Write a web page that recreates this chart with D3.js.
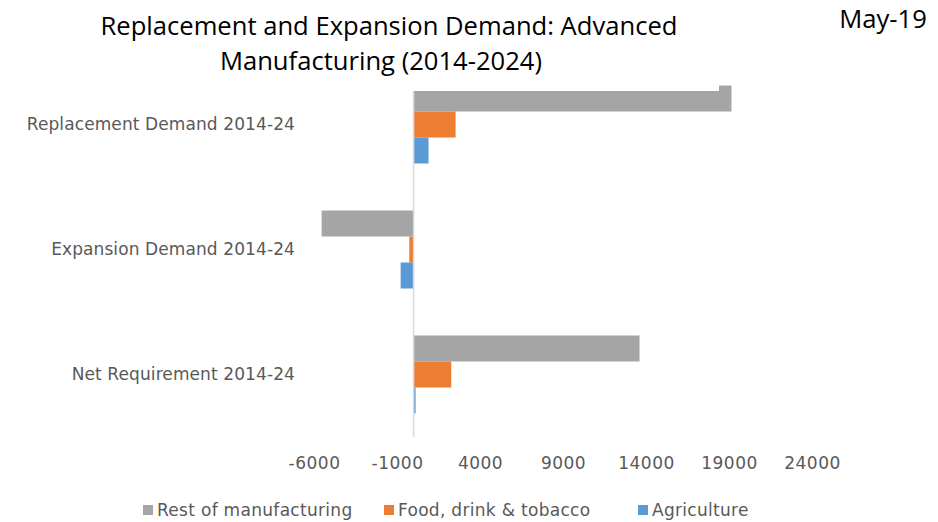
<!DOCTYPE html>
<head>
<meta charset="utf-8">
<title>Replacement and Expansion Demand</title>
<script src="https://d3js.org/d3.v7.min.js"></script>
</head>
<style>
body { margin: 0; background: #fff; }
text { font-family: "DejaVu Sans", sans-serif; }
</style>
<body>
<svg class="chart"></svg>
</body>
<script>
// categories, top to bottom
var categories = ["Replacement Demand 2014-24", "Expansion Demand 2014-24", "Net Requirement 2014-24"];
var seriesNames = ["Rest of manufacturing", "Food, drink & tobacco", "Agriculture"];
var restValues = [19150, -5540, 13610];
var foodValues = [2530, -260, 2270];
var agriValues = [900, -780, 120];
var tickValues = [-6000, -1000, 4000, 9000, 14000, 19000, 24000];
var colors = ["#a5a5a5", "#ed7d31", "#5b9bd5"];

var allSeries = [restValues, foodValues, agriValues];

var width = 938, height = 522;
var svg = d3.select(".chart").attr("width", width).attr("height", height);

var x = d3.scaleLinear().domain([-6000, 24000]).range([314, 812]);
var y = d3.scaleBand().domain(categories).range([62, 437])
	.paddingInner(0.376).paddingOuter(0.188);
var ySub = d3.scaleBand().domain(d3.range(seriesNames.length)).range([0, y.bandwidth()]);

// bars
var groups = svg.selectAll(".group")
	.data(categories)
	.enter().append("g")
	.attr("class", "group")
	.attr("transform", function(d){ return "translate(0," + y(d) + ")"; });

groups.selectAll("rect")
	.data(function(d, i){ return allSeries.map(function(s, j){ return {s: j, v: s[i]}; }); })
	.enter().append("rect")
	.attr("x", function(d){ return x(Math.min(0, d.v)); })
	.attr("width", function(d){ return Math.abs(x(d.v) - x(0)); })
	.attr("y", function(d){ return ySub(d.s); })
	.attr("height", ySub.bandwidth())
	.attr("fill", function(d){ return colors[d.s]; });

// zero axis line
svg.append("line")
	.attr("x1", x(0)).attr("x2", x(0))
	.attr("y1", 62).attr("y2", 437)
	.attr("stroke", "#d9d9d9").attr("stroke-width", 1.5);

// bottom tick labels (no axis line)
var xAxis = d3.axisBottom(x).tickValues(tickValues).tickSize(0).tickPadding(0)
	.tickFormat(function(d){ return String(d); });
var xg = svg.append("g").attr("transform", "translate(0,457)").call(xAxis);
xg.select(".domain").remove();
xg.selectAll("text").attr("fill", "#595959").style("font-size", "17px")
	.style("letter-spacing", "0.5px").attr("dy", "0.71em");

// category labels
var yAxis = d3.axisLeft(y).tickSize(0).tickPadding(0);
var yg = svg.append("g").attr("transform", "translate(295,0)").call(yAxis);
yg.select(".domain").remove();
yg.selectAll("text").attr("fill", "#595959").style("font-size", "17px").style("letter-spacing", "0.1px");

// title box (overlaps the top of the plot, as in the original)
svg.append("rect").attr("x", 60).attr("y", 0).attr("width", 659).attr("height", 91).attr("fill", "#fff");
svg.append("text").attr("x", 389).attr("y", 35).attr("text-anchor", "middle")
	.style("font-family", "'Open Sans', sans-serif").style("font-size", "25.6px").attr("fill", "#000")
	.text("Replacement and Expansion Demand: Advanced");
svg.append("text").attr("x", 381).attr("y", 70).attr("text-anchor", "middle")
	.style("font-family", "'Open Sans', sans-serif").style("font-size", "25.6px").attr("fill", "#000")
	.text("Manufacturing (2014-2024)");
svg.append("text").attr("x", 883).attr("y", 28).attr("text-anchor", "middle")
	.style("font-family", "'Open Sans', sans-serif").style("font-size", "25.6px").attr("fill", "#000")
	.text("May-19");

// legend
var legendX = [143, 384, 638];
var legend = svg.selectAll(".legend")
	.data(seriesNames)
	.enter().append("g")
	.attr("class", "legend")
	.attr("transform", function(d, i){ return "translate(" + legendX[i] + ",510)"; });
legend.append("rect").attr("x", 0).attr("y", -5).attr("width", 10).attr("height", 10)
	.attr("fill", function(d, i){ return colors[i]; });
legend.append("text").attr("x", 14).attr("y", 0).attr("dy", "0.35em")
	.attr("fill", "#595959").style("font-size", "17px").style("letter-spacing", "0.3px")
	.text(function(d){ return d; });
</script>
